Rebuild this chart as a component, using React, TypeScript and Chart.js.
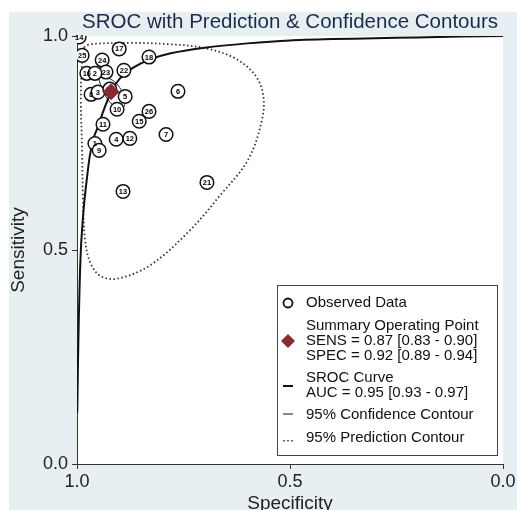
import React, { useEffect, useRef } from 'react';
import { Chart, registerables } from 'chart.js';

Chart.register(...registerables);

const W = 517;
const H = 510;
const FONT = "Arial, 'Liberation Sans', Helvetica, sans-serif";

// Observed studies
const studyLabels = ['14', '25', '17', '18', '24', '23', '22', '16', '2', '8', '3', '20', '5', '10', '11', '1', '9', '4', '12', '15', '26', '7', '6', '21', '13'];
const studySpec = [0.995, 0.988, 0.901, 0.831, 0.941, 0.932, 0.890, 0.977, 0.958, 0.967, 0.951, 0.923, 0.887, 0.906, 0.939, 0.958, 0.948, 0.908, 0.876, 0.854, 0.831, 0.791, 0.763, 0.695, 0.892];
const studySens = [0.998, 0.955, 0.970, 0.951, 0.944, 0.916, 0.920, 0.913, 0.913, 0.864, 0.869, 0.876, 0.859, 0.829, 0.794, 0.749, 0.733, 0.759, 0.761, 0.801, 0.824, 0.770, 0.871, 0.658, 0.637];

// Summary operating point
const summarySpec = [0.92];
const summarySens = [0.87];

// SROC curve
const srocSpec = [0.9995, 0.999, 0.998, 0.996, 0.993, 0.99, 0.985, 0.98, 0.97, 0.96, 0.95, 0.94, 0.92, 0.90, 0.87, 0.83, 0.78, 0.70, 0.60, 0.50, 0.40, 0.30, 0.20, 0.10, 0.0];
const srocSens = [0.12, 0.15, 0.22, 0.33, 0.45, 0.52, 0.59, 0.64, 0.72, 0.765, 0.79, 0.82, 0.87, 0.90, 0.925, 0.945, 0.96, 0.973, 0.983, 0.990, 0.993, 0.995, 0.997, 0.999, 1.0];

// 95% confidence contour
const confSpec = [0.946, 0.927, 0.908, 0.894, 0.887, 0.897, 0.913, 0.930, 0.941, 0.948, 0.946];
const confSens = [0.906, 0.902, 0.890, 0.869, 0.845, 0.827, 0.836, 0.855, 0.878, 0.897, 0.906];

// 95% prediction contour
const predSpec = [0.984, 0.969, 0.876, 0.782, 0.700, 0.629, 0.582, 0.563, 0.566, 0.599, 0.664, 0.735, 0.829, 0.906, 0.946, 0.969, 0.981, 0.986, 0.988, 0.991, 0.988, 0.984];
const predSens = [0.974, 0.981, 0.984, 0.981, 0.972, 0.948, 0.909, 0.862, 0.803, 0.710, 0.628, 0.546, 0.464, 0.433, 0.440, 0.471, 0.522, 0.616, 0.733, 0.850, 0.944, 0.974];

const axisTicks = [0, 0.5, 1];

const titleText = 'SROC with Prediction & Confidence Contours';
const legendObserved = 'Observed Data';
const legendSummary = ['Summary Operating Point', 'SENS = 0.87 [0.83 - 0.90]', 'SPEC = 0.92 [0.89 - 0.94]'];
const legendSroc = ['SROC Curve', 'AUC = 0.95 [0.93 - 0.97]'];
const legendConf = '95% Confidence Contour';
const legendPred = '95% Prediction Contour';

const DIAMOND = '#8b2a2e';

function zip(xs: number[], ys: number[]) {
  return xs.map((x, i) => ({ x, y: ys[i] }));
}

export default function App() {
  const ref = useRef<HTMLCanvasElement>(null);

  useEffect(() => {
    const canvas = ref.current;
    if (!canvas) return;

    const bgPlugin = {
      id: 'bgPlugin',
      beforeDraw(chart: any) {
        const c = chart.ctx;
        const a = chart.chartArea;
        c.save();
        c.fillStyle = '#ffffff';
        c.fillRect(0, 0, W, H);
        c.fillStyle = '#e8eff3';
        c.fillRect(9, 12, W - 9, H - 12);
        c.fillStyle = '#ffffff';
        c.fillRect(a.left, a.top, a.right - a.left, a.bottom - a.top);
        c.restore();
      },
    };

    const labelPlugin = {
      id: 'labelPlugin',
      afterDatasetDraw(chart: any, args: any) {
        if (args.index !== 3) return;
        const c = chart.ctx;
        const meta = chart.getDatasetMeta(3);
        c.save();
        c.fillStyle = '#000';
        c.font = `bold 7.5px ${FONT}`;
        c.textAlign = 'center';
        c.textBaseline = 'middle';
        meta.data.forEach((el: any, i: number) => {
          c.fillText(studyLabels[i], el.x, el.y + 0.5);
        });
        c.restore();
      },
    };

    const legendPlugin = {
      id: 'legendPlugin',
      afterDraw(chart: any) {
        const c = chart.ctx;
        const bx = 277, by = 285, bw = 220, bh = 170;
        c.save();
        c.fillStyle = '#ffffff';
        c.fillRect(bx, by, bw, bh);
        c.strokeStyle = '#444';
        c.lineWidth = 1;
        c.strokeRect(bx + 0.5, by + 0.5, bw, bh);

        const tx = 306;
        const mx = 288;
        c.fillStyle = '#111';
        c.font = `15px ${FONT}`;
        c.textAlign = 'left';
        c.textBaseline = 'middle';

        // Observed
        c.beginPath();
        c.arc(mx, 303, 4.5, 0, Math.PI * 2);
        c.lineWidth = 1.8;
        c.strokeStyle = '#111';
        c.stroke();
        c.fillText(legendObserved, tx, 303);

        // Summary
        const sy = [326, 341, 356];
        legendSummary.forEach((t, i) => c.fillText(t, tx, sy[i]));
        c.beginPath();
        c.moveTo(mx, 334);
        c.lineTo(mx + 7, 341);
        c.lineTo(mx, 348);
        c.lineTo(mx - 7, 341);
        c.closePath();
        c.fillStyle = DIAMOND;
        c.fill();
        c.fillStyle = '#111';

        // SROC
        const ry = [378, 393];
        legendSroc.forEach((t, i) => c.fillText(t, tx, ry[i]));
        c.beginPath();
        c.moveTo(mx - 5, 386);
        c.lineTo(mx + 5, 386);
        c.lineWidth = 2;
        c.stroke();

        // Confidence
        c.fillText(legendConf, tx, 415);
        c.beginPath();
        c.moveTo(mx - 5, 414);
        c.lineTo(mx + 5, 414);
        c.lineWidth = 1;
        c.stroke();

        // Prediction
        c.fillText(legendPred, tx, 438);
        [mx - 4, mx, mx + 4].forEach((x) => c.fillRect(x - 0.7, 440, 1.4, 1.4));
        c.restore();
      },
    };

    const axisCommon = {
      type: 'linear' as const,
      min: 0,
      max: 1,
      afterBuildTicks: (axis: any) => {
        axis.ticks = axisTicks.map((v) => ({ value: v }));
      },
      ticks: {
        color: '#222',
        font: { family: FONT, size: 18, lineHeight: 1.0 },
        padding: 4,
        callback: (v: any) => Number(v).toFixed(1),
      },
      grid: {
        display: true,
        drawOnChartArea: false,
        drawTicks: true,
        tickLength: 5,
        color: '#333',
        lineWidth: 1,
      },
      border: { display: true, color: '#333', width: 1 },
    };

    const chart = new Chart(canvas, {
      type: 'scatter',
      data: {
        datasets: [
          {
            label: 'pred',
            data: zip(predSpec, predSens),
            showLine: true,
            borderColor: '#333',
            borderWidth: 1.8,
            borderDash: [1.5, 2.5],
            pointRadius: 0,
            tension: 0.35,
            order: 5,
          },
          {
            label: 'conf',
            data: zip(confSpec, confSens),
            showLine: true,
            borderColor: '#222',
            borderWidth: 1,
            pointRadius: 0,
            tension: 0.35,
            order: 4,
          },
          {
            label: 'sroc',
            data: zip(srocSpec, srocSens),
            showLine: true,
            borderColor: '#111',
            borderWidth: 2,
            pointRadius: 0,
            tension: 0.2,
            order: 3,
          },
          {
            label: 'obs',
            data: zip(studySpec, studySens),
            pointRadius: 6.8,
            pointBackgroundColor: '#ffffff',
            pointBorderColor: '#111',
            pointBorderWidth: 1.5,
            order: 2,
          },
          {
            label: 'summary',
            data: zip(summarySpec, summarySens),
            pointStyle: 'rectRot',
            pointRadius: 8,
            pointBackgroundColor: DIAMOND,
            pointBorderColor: DIAMOND,
            pointBorderWidth: 1,
            order: 1,
          },
        ],
      },
      options: {
        responsive: false,
        animation: false,
        devicePixelRatio: 1,
        layout: { padding: { left: 9, right: 14, top: 10, bottom: -3 } },
        plugins: {
          legend: { display: false },
          tooltip: { enabled: false },
          title: {
            display: true,
            text: titleText,
            fullSize: false,
            color: '#1c2b4a',
            font: { family: FONT, size: 20.5, weight: 'normal', lineHeight: 1.2 },
            padding: { top: 0, bottom: 1.5 },
          },
        },
        scales: {
          x: {
            ...axisCommon,
            reverse: true,
            title: {
              display: true,
              text: 'Specificity',
              color: '#222',
              font: { family: FONT, size: 19, lineHeight: 1.0 },
              padding: { top: -1, bottom: 0 },
            },
          },
          y: {
            ...axisCommon,
            title: {
              display: true,
              text: 'Sensitivity',
              color: '#222',
              font: { family: FONT, size: 19, lineHeight: 1.0 },
              padding: { top: 0, bottom: 11 },
            },
          },
        },
      } as any,
      plugins: [bgPlugin, labelPlugin, legendPlugin],
    });

    return () => chart.destroy();
  }, []);

  return (
    <div style={{ position: 'fixed', left: 0, top: 0, width: W, height: H, background: '#fff' }}>
      <canvas ref={ref} width={W} height={H} style={{ width: W, height: H, display: 'block' }} />
    </div>
  );
}
